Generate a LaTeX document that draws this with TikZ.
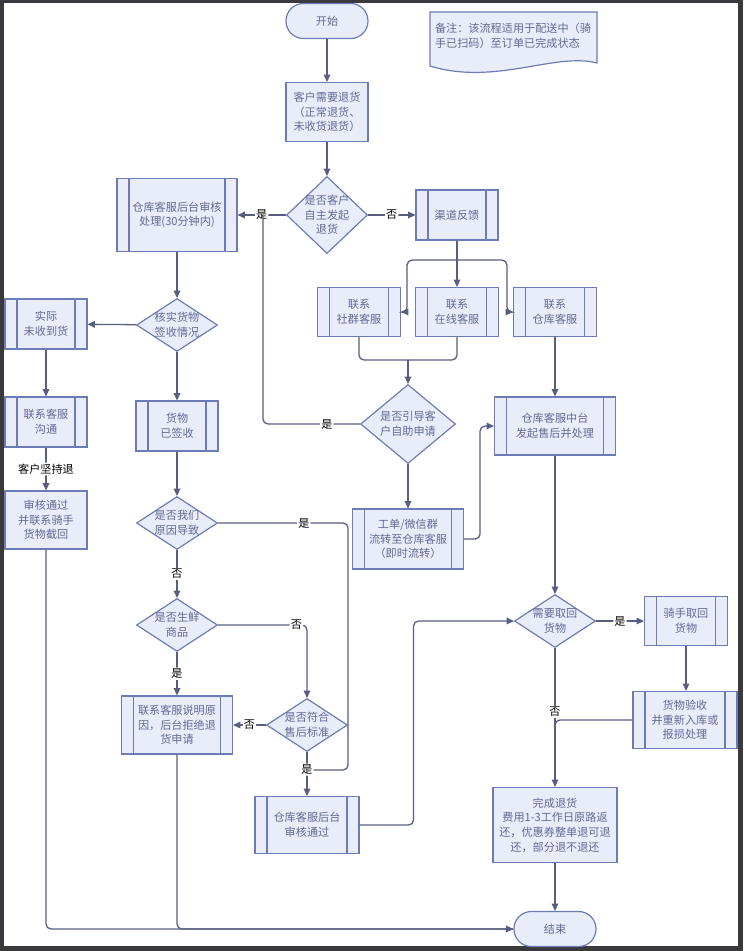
\documentclass[tikz,border=0pt]{standalone}
\usepackage{fontspec}
\setmainfont{Noto Sans CJK SC}
\usetikzlibrary{arrows.meta,shapes.geometric}
\definecolor{boxfill}{RGB}{233,236,249}
\definecolor{boxline}{RGB}{108,122,182}
\definecolor{wire}{RGB}{88,94,128}
\definecolor{boxtext}{RGB}{98,106,150}
\definecolor{frame}{RGB}{58,58,62}
\tikzset{
    flow diagram/.style = {>={Triangle[length=2.2mm,width=2mm]}, x=0.3mm, y=-0.3mm},
    txt/.style          = {font=\fontsize{9.5}{12.5}\selectfont},
    line/.style         = {draw=wire, line width=1.1pt, rounded corners=1.5mm},
    base/.style         = {txt, draw=boxline, fill=boxfill, line width=1pt,
                           text=boxtext, align=center},
    block/.style        = {base, minimum width=2.46cm, minimum height=1.5cm},
    sub/.style          = {block, path picture={
                             \draw[boxline, line width=1.2pt]
                               ([xshift=0.36cm]path picture bounding box.north west) --
                               ([xshift=0.36cm]path picture bounding box.south west)
                               ([xshift=-0.36cm]path picture bounding box.north east) --
                               ([xshift=-0.36cm]path picture bounding box.south east);}},
    term/.style         = {base, rounded corners=0.52cm,
                           minimum width=2.46cm, minimum height=1.05cm},
    decision/.style     = {base, diamond, inner sep=0pt,
                           minimum width=2.43cm, minimum height=1.59cm},
    dlabel/.style       = {txt, text=boxtext, align=center, inner sep=0pt},
    yesno/.style        = {txt, fill=white, text=black, inner sep=1pt}
}

\begin{document}
\begin{tikzpicture}[flow diagram]
\fill[white] (0,0) rectangle (743,951);
\fill[frame] (0,0) rectangle (4,951);
\fill[frame] (0,0) rectangle (743,3);
\fill[frame] (738,0) rectangle (743,951);
\fill[frame] (0,946) rectangle (743,951);
\useasboundingbox (0,0) rectangle (743,951);

\node[term] (start) at (327,21) {开始};
\draw[draw=boxline, fill=boxfill, line width=1pt] (430,12) -- (597,12) -- (597,63)
    .. controls (555,52) and (495,86) .. (430,66) -- cycle;
\node[txt, text=boxtext, align=left] (note) at (513,36)
    {备注：该流程适用于配送中（骑\\手已扫码）至订单已完成状态};

\node[block, minimum height=1.77cm] (req) at (327,112) {客户需要退货\\（正常退货、\\未收货退货）};
\node[decision, minimum height=2.31cm,
      label={[dlabel]center:{是否客户\\自主发起\\退货}}] (self) at (327,215) {};
\node[sub, minimum width=3.6cm, minimum height=2.19cm] (audit) at (177,215) {仓库客服后台审核\\处理(30分钟内)};
\node[sub] (channel) at (457,215) {渠道反馈};
\foreach \name/\x/\who in {cs1/359/社群客服, cs2/457/在线客服, cs3/555/仓库客服}
    \node[sub, minimum width=2.49cm, minimum height=1.47cm] (\name) at (\x,312) {联系\\\who};
\node[decision, minimum width=2.85cm, minimum height=2.37cm,
      label={[dlabel]center:{是否引导客\\户自助申请}}] (guide) at (408,424) {};
\node[sub, minimum width=3.33cm, minimum height=1.8cm] (ticket) at (408,539) {工单/微信群\\流转至仓库客服\\（即时流转）};
\node[sub, minimum width=3.63cm, minimum height=1.74cm] (midtask) at (555,426) {仓库客服中台\\发起售后并处理};

\node[decision, label={[dlabel]center:{核实货物\\签收情况}}] (verify) at (177,325) {};
\node[sub] (notrecv) at (46,324) {实际\\未收到货};
\node[sub] (contact) at (46,422) {联系客服\\沟通};
\node[block, minimum height=1.74cm] (intercept) at (46,520) {审核通过\\并联系骑手\\货物截回};
\node[sub] (signed) at (177,426) {货物\\已签收};
\node[decision, label={[dlabel]center:{是否我们\\原因导致}}] (ourfault) at (177,523) {};
\node[decision, label={[dlabel]center:{是否生鲜\\商品}}] (fresh) at (177,625) {};
\node[sub, minimum width=3.33cm, minimum height=1.74cm] (reject) at (177,725) {联系客服说明原\\因，后台拒绝退\\货申请};
\node[decision, label={[dlabel]center:{是否符合\\售后标准}}] (std) at (307,725) {};
\node[sub, minimum width=3.12cm, minimum height=1.71cm] (approve) at (307,825) {仓库客服后台\\审核通过};

\node[decision, label={[dlabel]center:{需要取回\\货物}}] (fetch) at (555,621) {};
\node[sub, minimum width=2.49cm, minimum height=1.47cm] (rider) at (686,621) {骑手取回\\货物};
\node[sub, minimum width=3.12cm, minimum height=1.71cm] (inspect) at (685,720) {货物验收\\并重新入库或\\报损处理};
\node[block, minimum width=3.72cm, minimum height=2.25cm] (done) at (555,825) {完成退货\\费用1-3工作日原路返\\还，优惠券整单退可退\\还，部分退不退还};
\node[term] (end) at (555,929) {结束};

\coordinate (split) at (457,260);
\coordinate (merge) at (408,360);
\coordinate (backyes) at (263,215);
\coordinate (joinyes) at (307,770);
\coordinate (fold) at (555,730);

\draw[->,line] (start) -- (req);
\draw[->,line] (req) -- (self);
\draw[->,line] (self) -- node[yesno] {是} (audit);
\draw[->,line] (self) -- node[yesno] {否} (channel);
\draw[line] (channel) -- (split);
\draw[->,line] (split) -- (cs2);
\draw[->,line] (split) -| ([xshift=0.18cm]cs1.east) -- (cs1.east);
\draw[->,line] (split) -| ([xshift=-0.18cm]cs3.west) -- (cs3.west);
\draw[line] (cs1) |- (merge);
\draw[line] (cs2) |- (merge);
\draw[->,line] (merge) -- (guide);
\draw[line] (guide) -| node[yesno, pos=0.17] {是} (backyes);
\draw[->,line] (guide) -- (ticket);
\draw[->,line] (ticket.east) -- ++(16,0) |- (midtask.west);
\draw[->,line] (cs3) -- (midtask);
\draw[->,line] (midtask) -- (fetch);
\draw[->,line] (fetch) -- node[yesno] {是} (rider);
\draw[->,line] (rider) -- (rider |- inspect.north);
\draw[->,line] (fetch) -- node[yesno, pos=0.46] {否} (done);
\draw[line] (inspect) -| (fold);
\draw[->,line] (done) -- (end);

\draw[->,line] (audit) -- (verify);
\draw[->,line] (verify) -- (notrecv);
\draw[->,line] (notrecv) -- (contact);
\draw[->,line] (contact) -- node[yesno] {客户坚持退} (intercept);
\draw[->,line] (intercept) |- (end);
\draw[line] (reject) |- (end);
\draw[->,line] (verify) -- (signed);
\draw[->,line] (signed) -- (ourfault);
\draw[line] (ourfault.east) -- node[yesno, pos=0.66] {是} ++(130,0) |- (joinyes);
\draw[->,line] (ourfault) -- node[yesno] {否} (fresh);
\draw[->,line] (fresh) -| node[yesno, pos=0.44] {否} (std);
\draw[->,line] (fresh) -- node[yesno] {是} (reject);
\draw[->,line] (std) -- node[yesno] {否} (reject);
\draw[->,line] (std) -- node[yesno, pos=0.4] {是} (approve);
\draw[->,line] (approve.east) -- ++(54,0) |- (fetch.west);
\end{tikzpicture}
\end{document}
